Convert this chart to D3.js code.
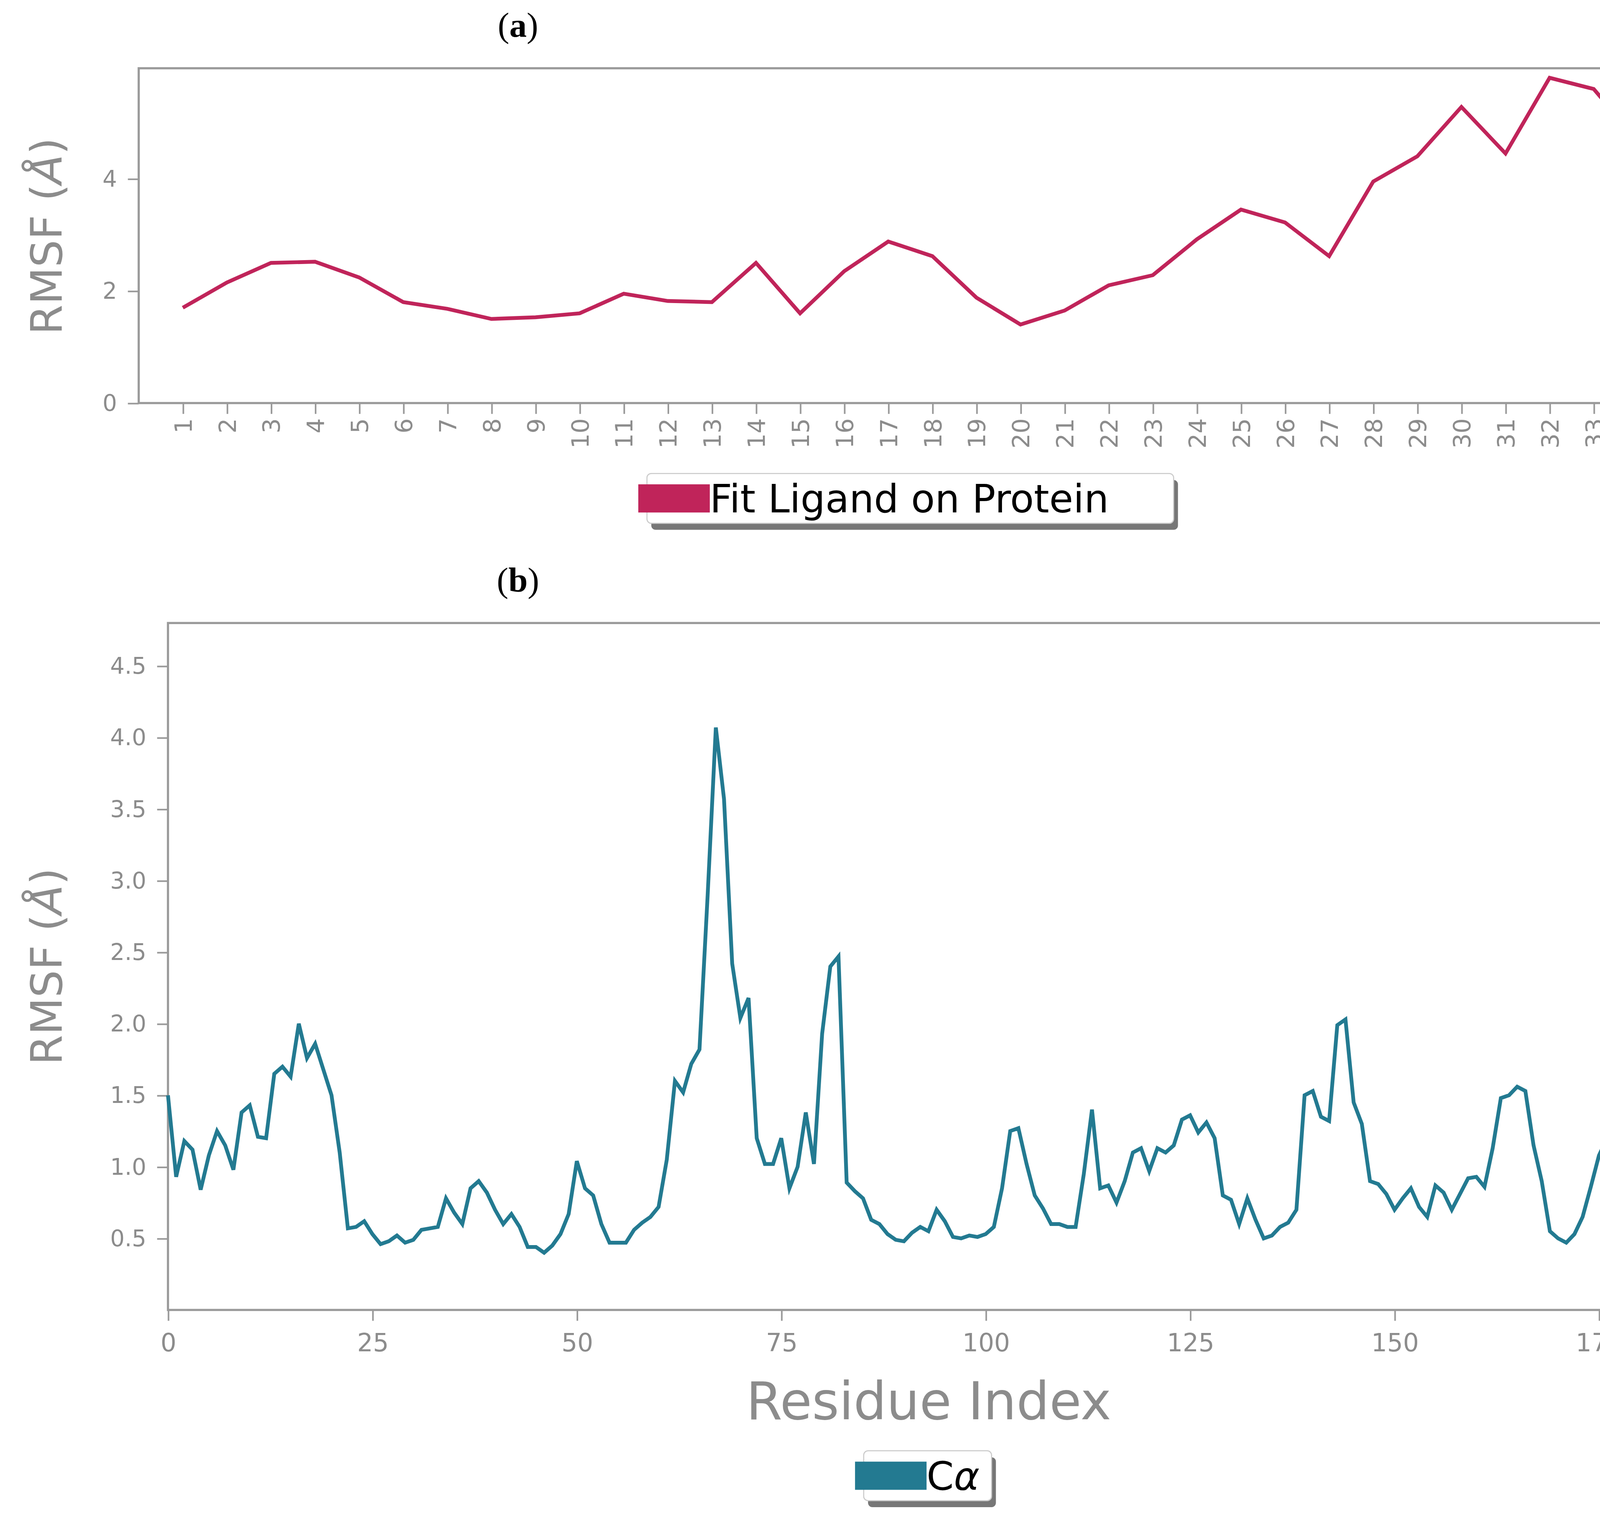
<!DOCTYPE html>
<html><head><meta charset="utf-8">
<script src="https://cdn.jsdelivr.net/npm/d3@7"></script>
<style>html,body{margin:0;padding:0;background:#fff;overflow:hidden}svg{display:block}</style></head>
<body><svg id="c" width="4350" height="3897"></svg>
<script>
// panel (a): ligand RMSF per atom index
const ligandIdx = d3.range(1, 35);
const ligandRmsf = [1.7,2.15,2.5,2.52,2.24,1.8,1.68,1.5,1.53,1.6,1.95,1.82,1.8,2.5,1.6,2.35,2.88,2.62,1.88,1.4,
  1.65,2.1,2.28,2.92,3.45,3.22,2.62,3.95,4.4,5.28,4.45,5.8,5.6,4.68];
const ligandTicks = [0, 2, 4];

// panel (b): C-alpha RMSF per residue
const caRmsf = [1.5,0.93,1.18,1.12,0.84,1.08,1.25,1.15,0.98,1.38,1.43,1.21,1.2,1.65,1.7,1.63,2.0,1.76,1.86,1.68,
  1.5,1.1,0.57,0.58,0.62,0.53,0.46,0.48,0.52,0.47,0.49,0.56,0.57,0.58,0.78,0.68,0.6,0.85,0.9,0.82,
  0.7,0.6,0.67,0.58,0.44,0.44,0.4,0.45,0.53,0.67,1.04,0.85,0.8,0.6,0.47,0.47,0.47,0.56,0.61,0.65,
  0.72,1.05,1.6,1.52,1.72,1.82,2.9,4.07,3.57,2.42,2.04,2.18,1.2,1.02,1.02,1.2,0.85,1.0,1.38,1.02,
  1.93,2.4,2.47,0.89,0.83,0.78,0.63,0.6,0.53,0.49,0.48,0.54,0.58,0.55,0.7,0.62,0.51,0.5,0.52,0.51,
  0.53,0.58,0.85,1.25,1.27,1.02,0.8,0.71,0.6,0.6,0.58,0.58,0.95,1.4,0.85,0.87,0.75,0.9,1.1,1.13,
  0.97,1.13,1.1,1.15,1.33,1.36,1.24,1.31,1.2,0.8,0.77,0.6,0.78,0.63,0.5,0.52,0.58,0.61,0.7,1.5,
  1.53,1.35,1.32,1.99,2.03,1.45,1.3,0.9,0.88,0.81,0.7,0.78,0.85,0.72,0.65,0.87,0.82,0.7,0.81,0.92,
  0.93,0.86,1.13,1.48,1.5,1.56,1.53,1.15,0.9,0.55,0.5,0.47,0.53,0.65,0.86,1.08,1.2,1.08,0.88,0.7,
  0.64,0.57,0.62,0.82,1.1,1.55];
const caXTicks = [0, 25, 50, 75, 100, 125, 150, 175];
const caYTicks = [0.5, 1.0, 1.5, 2.0, 2.5, 3.0, 3.5, 4.0, 4.5];

// draw in a 1568-wide coordinate space, scaled up to the page
const svg = d3.select('#c').append('g').attr('transform', `scale(${4350 / 1568})`);
const gray = '#8c8c8c';
const font = 'DejaVu Sans, sans-serif';

function frame(x0, y0, x1, y1) {
  svg.append('rect').attr('x', x0).attr('y', y0).attr('width', x1 - x0).attr('height', y1 - y0)
    .attr('fill', 'none').attr('stroke', '#9a9a9a').attr('stroke-width', 2);
}
function styleAxis(g, size) {
  g.select('.domain').remove();
  g.selectAll('line').attr('stroke', '#9a9a9a').attr('stroke-width', 1.5);
  g.selectAll('text').attr('fill', gray).attr('font-family', font).attr('font-size', size);
}
function yLabel(cx, cy) {
  const t = svg.append('text').attr('transform', `translate(${cx},${cy}) rotate(-90)`)
    .attr('text-anchor', 'middle').attr('font-family', font).attr('font-size', 40).attr('fill', gray);
  t.append('tspan').text('RMSF (');
  t.append('tspan').attr('font-style', 'italic').text('Å');
  t.append('tspan').text(')');
}
function legend(x, y, w, color, build) {
  svg.append('rect').attr('x', x + 4).attr('y', y + 6).attr('width', w).attr('height', 46)
    .attr('rx', 4).attr('fill', '#777');
  svg.append('rect').attr('x', x).attr('y', y).attr('width', w).attr('height', 46)
    .attr('rx', 4).attr('fill', '#fff').attr('stroke', '#ccc');
  svg.append('rect').attr('x', x - 8).attr('y', y + 10).attr('width', 66).attr('height', 26).attr('fill', color);
  build(svg.append('text').attr('x', x + 58).attr('y', y + 36).attr('font-family', font)
    .attr('font-size', 36).attr('fill', '#000'));
}
function title(txt, y) {
  const t = svg.append('text').attr('x', 478).attr('y', y).attr('text-anchor', 'middle')
    .attr('font-family', 'Liberation Serif, serif').attr('font-size', 32);
  t.append('tspan').text('(');
  t.append('tspan').attr('font-weight', 'bold').text(txt);
  t.append('tspan').text(')');
}

// ---- panel (a)
const ax = d3.scaleLinear().domain([0, 35]).range([128, 1552]);
const ay = d3.scaleLinear().domain([0, 5.97]).range([372, 63]);
title('a', 34);
frame(128, 63, 1552, 372);
svg.append('g').attr('transform', 'translate(128,0)')
  .call(d3.axisLeft(ay).tickValues(ligandTicks).tickFormat(d3.format('d')).tickSize(10).tickPadding(10))
  .call(g => styleAxis(g, 21));
const gxa = svg.append('g').attr('transform', 'translate(0,372)')
  .call(d3.axisBottom(ax).tickValues(ligandIdx).tickSize(10));
styleAxis(gxa, 22);
gxa.selectAll('text').attr('transform', 'rotate(-90)').attr('text-anchor', 'end')
  .attr('x', -14).attr('y', 0).attr('dy', '0.35em');
svg.append('path').datum(ligandRmsf)
  .attr('d', d3.line().x((d, i) => ax(ligandIdx[i])).y(d => ay(d)))
  .attr('fill', 'none').attr('stroke', '#c0245a').attr('stroke-width', 3.5);
yLabel(57, 218);
legend(597, 437, 486, '#c0245a', t => t.text('Fit Ligand on Protein'));

// ---- panel (b)
const bx = d3.scaleLinear().domain([0, 186.2]).range([155, 1560]);
const by = d3.scaleLinear().domain([0, 4.8]).range([1209, 575]);
title('b', 546);
frame(155, 575, 1560, 1209);
svg.append('g').attr('transform', 'translate(155,0)')
  .call(d3.axisLeft(by).tickValues(caYTicks).tickFormat(d3.format('.1f')).tickSize(10).tickPadding(10))
  .call(g => styleAxis(g, 21));
svg.append('g').attr('transform', 'translate(0,1209)')
  .call(d3.axisBottom(bx).tickValues(caXTicks).tickSize(10).tickPadding(12))
  .call(g => styleAxis(g, 23));
svg.append('path').datum(caRmsf)
  .attr('d', d3.line().x((d, i) => bx(i)).y(d => by(d)))
  .attr('fill', 'none').attr('stroke', '#237a91').attr('stroke-width', 3.5);
yLabel(57, 892);
svg.append('text').attr('x', 857).attr('y', 1310).attr('text-anchor', 'middle')
  .attr('font-family', font).attr('font-size', 48).attr('fill', gray).text('Residue Index');
legend(797, 1339, 118, '#237a91', t => {
  t.append('tspan').text('C');
  t.append('tspan').attr('font-style', 'italic').text('α');
});
</script></body></html>
